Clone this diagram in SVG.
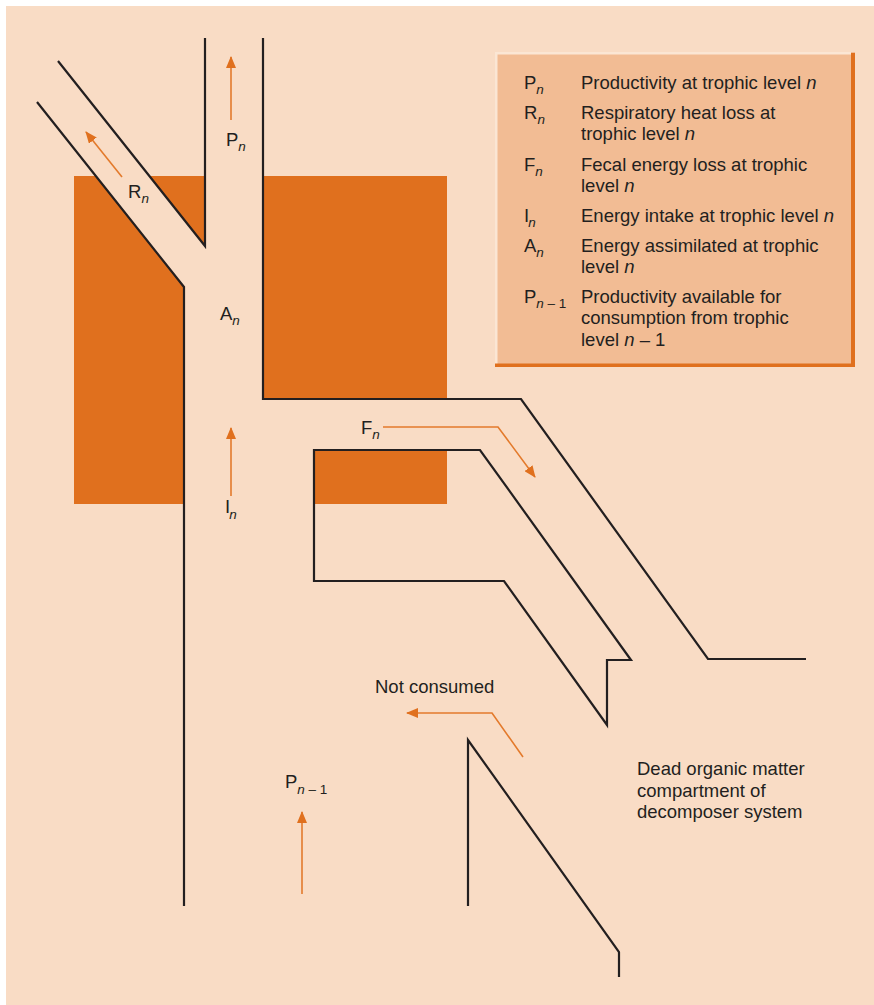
<svg xmlns="http://www.w3.org/2000/svg" width="874" height="1005" viewBox="0 0 874 1005">
<defs>
<style>
.wall{fill:none;stroke:#231F20;stroke-width:2.2;stroke-linejoin:miter;stroke-linecap:butt}
.flow{fill:none;stroke:#E37A2C;stroke-width:1.6}
.org{fill:#E0701E}
text{font-family:"Liberation Sans",Arial,sans-serif;font-size:18.5px;fill:#231F20}
.sub{font-size:13.5px;font-style:italic}
.subn{font-size:13.5px}
</style>
<marker id="ah" viewBox="0 0 12 10" refX="11" refY="5" markerWidth="12" markerHeight="10" markerUnits="userSpaceOnUse" orient="auto">
<path d="M0,0 L12,5 L0,10 Z" fill="#E0701E"/>
</marker>
</defs>
<rect x="0" y="0" width="874" height="1005" fill="#FFFFFF"/>
<rect x="6" y="6" width="868" height="999" fill="#F9DCC5"/>
<g id="consumer-compartment">
<polygon class="org" points="74,176 96,176 184,287 184,504 74,504"/>
<polygon class="org" points="149,176 205,176 205,246"/>
<rect class="org" x="263" y="176" width="184" height="223"/>
<rect class="org" x="314" y="450" width="133" height="54"/>
</g>
<g id="channels">
<polyline class="wall" points="58,61 205,246 205,38"/>
<polyline class="wall" points="37,102 184,287 184,906"/>
<polyline class="wall" points="263,38 263,399 521,399 708,659 806,659"/>
<polygon class="wall" points="314,450 480,450 631,660 607,660 607,725 504,581 314,581"/>
<polyline class="wall" points="468,906 468,740 619,952 619,977"/>
</g>
<g id="connectors">
<line class="flow" x1="231" y1="120" x2="231" y2="57" marker-end="url(#ah)"/>
<line class="flow" x1="122" y1="177" x2="86" y2="132" marker-end="url(#ah)"/>
<line class="flow" x1="231" y1="496" x2="231" y2="428" marker-end="url(#ah)"/>
<polyline class="flow" points="383,427 498,427 535,477" marker-end="url(#ah)"/>
<polyline class="flow" points="523,757 492,713 407,713" marker-end="url(#ah)"/>
<line class="flow" x1="302" y1="894" x2="302" y2="812" marker-end="url(#ah)"/>
</g>
<g id="labels">
<text x="226" y="146">P<tspan class="sub" dy="4.5">n</tspan></text>
<text x="128" y="198">R<tspan class="sub" dy="4.5">n</tspan></text>
<text x="220" y="320">A<tspan class="sub" dy="4.5">n</tspan></text>
<text x="225" y="513">I<tspan class="sub" dy="5.5" dx="-1">n</tspan></text>
<text x="361" y="434">F<tspan class="sub" dy="5">n</tspan></text>
<text x="285" y="788">P<tspan class="sub" dy="5.5">n</tspan><tspan class="subn"> – 1</tspan></text>
<text x="375" y="693">Not consumed</text>
<text x="637" y="775">Dead organic matter</text>
<text x="637" y="797">compartment of</text>
<text x="637" y="818">decomposer system</text>
</g>
<g id="legend">
<rect x="495" y="52" width="360" height="315" fill="#F2BC94"/>
<rect x="495" y="52" width="356" height="2.5" fill="#FBE6D4"/>
<rect x="495" y="52" width="2.5" height="312" fill="#FBE6D4"/>
<rect x="851" y="53" width="4" height="314" fill="#E0701E"/>
<rect x="495" y="363.5" width="360" height="3.5" fill="#E0701E"/>
<text x="524" y="89">P<tspan class="sub" dy="4.5">n</tspan></text>
<text x="581" y="89">Productivity at trophic level <tspan font-style="italic">n</tspan></text>
<text x="524" y="119">R<tspan class="sub" dy="4.5">n</tspan></text>
<text x="581" y="119">Respiratory heat loss at</text>
<text x="581" y="140">trophic level <tspan font-style="italic">n</tspan></text>
<text x="524" y="171">F<tspan class="sub" dy="4.5">n</tspan></text>
<text x="581" y="171">Fecal energy loss at trophic</text>
<text x="581" y="192">level <tspan font-style="italic">n</tspan></text>
<text x="524" y="222">I<tspan class="sub" dy="4.5" dx="-1">n</tspan></text>
<text x="581" y="222">Energy intake at trophic level <tspan font-style="italic">n</tspan></text>
<text x="524" y="252">A<tspan class="sub" dy="4.5">n</tspan></text>
<text x="581" y="252">Energy assimilated at trophic</text>
<text x="581" y="273">level <tspan font-style="italic">n</tspan></text>
<text x="524" y="303">P<tspan class="sub" dy="5">n</tspan><tspan class="subn"> – 1</tspan></text>
<text x="581" y="303">Productivity available for</text>
<text x="581" y="324">consumption from trophic</text>
<text x="581" y="346">level <tspan font-style="italic">n</tspan> – 1</text>
</g>
</svg>
